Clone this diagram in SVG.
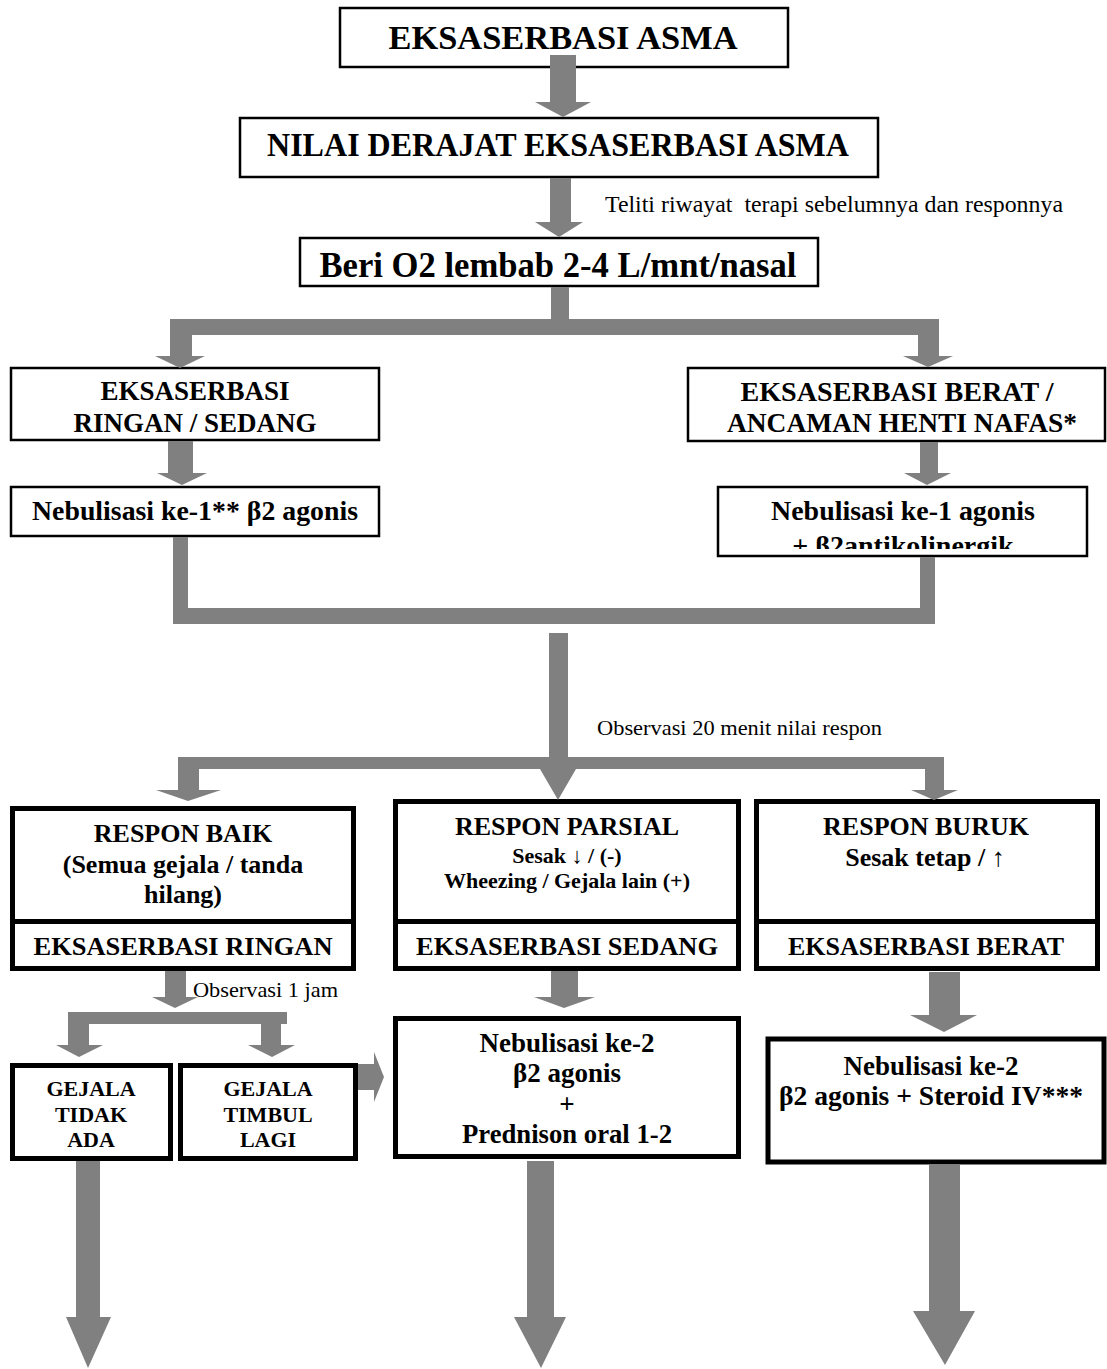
<svg xmlns="http://www.w3.org/2000/svg" width="1107" height="1369" viewBox="0 0 1107 1369">
<style>
.bx{fill:#fff;stroke:#000;stroke-width:2.5}
.tk{fill:#fff;stroke:#000;stroke-width:5}
.t{font-family:"Liberation Serif","Times New Roman",serif;font-weight:bold;text-anchor:middle;fill:#000}
.lb{font-family:"Liberation Serif","Times New Roman",serif;font-weight:normal;fill:#000;white-space:pre}
.ar{fill:#808080}
</style>
<defs>
<clipPath id="c2"><rect x="718" y="487" width="369" height="62"/></clipPath>
</defs>
<rect width="1107" height="1369" fill="#fff"/>
<g id="n1"><rect class="bx" x="340" y="8" width="448" height="59"/><text class="t" x="563" y="49" font-size="34" textLength="349" lengthAdjust="spacingAndGlyphs">EKSASERBASI ASMA</text></g>
<g id="n2"><rect class="bx" x="240" y="118" width="638" height="59"/><text class="t" x="558" y="156" font-size="33" textLength="582" lengthAdjust="spacingAndGlyphs">NILAI DERAJAT EKSASERBASI ASMA</text></g>
<g id="n3"><rect class="bx" x="300" y="238" width="518" height="48"/><text class="t" x="558" y="277" font-size="35" textLength="477" lengthAdjust="spacingAndGlyphs">Beri O2 lembab 2-4 L/mnt/nasal</text></g>
<g id="n4"><rect class="bx" x="11" y="368" width="368" height="72"/><text class="t" x="195" y="400" font-size="27">EKSASERBASI</text><text class="t" x="195" y="432" font-size="27">RINGAN / SEDANG</text></g>
<g id="n5"><rect class="bx" x="11" y="487" width="368" height="49"/><text class="t" x="195" y="520" font-size="27.5" textLength="326" lengthAdjust="spacingAndGlyphs">Nebulisasi ke-1** β2 agonis</text></g>
<g id="n6"><rect class="bx" x="688" y="368" width="417" height="73"/><text class="t" x="897" y="401" font-size="27" textLength="313" lengthAdjust="spacingAndGlyphs">EKSASERBASI BERAT /</text><text class="t" x="902" y="432" font-size="27" textLength="350" lengthAdjust="spacingAndGlyphs">ANCAMAN HENTI NAFAS*</text></g>
<g id="n7"><rect class="bx" x="718" y="487" width="369" height="69"/><text class="t" x="903" y="520" font-size="28" textLength="264" lengthAdjust="spacingAndGlyphs">Nebulisasi ke-1 agonis</text><text class="t" x="903" y="555" font-size="28" clip-path="url(#c2)">+ β2antikolinergik</text></g>
<g id="n8"><rect class="tk" x="12.5" y="808.5" width="341" height="113"/><rect class="tk" x="12.5" y="921.5" width="341" height="47"/><text class="t" x="183" y="842" font-size="26">RESPON BAIK</text><text class="t" x="183" y="873" font-size="26">(Semua gejala / tanda</text><text class="t" x="183" y="903" font-size="26">hilang)</text><text class="t" x="183" y="955" font-size="26" textLength="299" lengthAdjust="spacingAndGlyphs">EKSASERBASI RINGAN</text></g>
<g id="n9"><rect class="tk" x="395.5" y="801.5" width="343" height="120"/><rect class="tk" x="395.5" y="921.5" width="343" height="47"/><text class="t" x="567" y="835" font-size="26">RESPON PARSIAL</text><text class="t" x="567" y="863" font-size="22">Sesak ↓ / (-)</text><text class="t" x="567" y="888" font-size="22">Wheezing / Gejala lain (+)</text><text class="t" x="567" y="955" font-size="26" textLength="302" lengthAdjust="spacingAndGlyphs">EKSASERBASI SEDANG</text></g>
<g id="n10"><rect class="tk" x="756.5" y="801.5" width="341" height="120"/><rect class="tk" x="756.5" y="921.5" width="341" height="47"/><text class="t" x="926" y="835" font-size="26">RESPON BURUK</text><text class="t" x="925" y="866" font-size="26">Sesak tetap / ↑</text><text class="t" x="926" y="955" font-size="26">EKSASERBASI BERAT</text></g>
<g id="n11"><rect class="tk" x="12.5" y="1065.5" width="158" height="93"/><text class="t" x="91" y="1096" font-size="22">GEJALA</text><text class="t" x="91" y="1122" font-size="22">TIDAK</text><text class="t" x="91" y="1147" font-size="22">ADA</text></g>
<g id="n12"><rect class="tk" x="180.5" y="1065.5" width="175" height="93"/><text class="t" x="268" y="1096" font-size="22">GEJALA</text><text class="t" x="268" y="1122" font-size="22">TIMBUL</text><text class="t" x="268" y="1147" font-size="22">LAGI</text></g>
<g id="n13"><rect class="tk" x="395.5" y="1018.5" width="343" height="138"/><text class="t" x="567" y="1052" font-size="27">Nebulisasi ke-2</text><text class="t" x="567" y="1082" font-size="27">β2 agonis</text><text class="t" x="567" y="1113" font-size="27" font-weight="normal">+</text><text class="t" x="567" y="1143" font-size="27" textLength="210" lengthAdjust="spacingAndGlyphs">Prednison oral 1-2</text></g>
<g id="n14"><rect class="tk" x="768" y="1039" width="336" height="123" stroke-width="6.5"/><text class="t" x="931" y="1075" font-size="27">Nebulisasi ke-2</text><text class="t" x="931" y="1105" font-size="27" textLength="304" lengthAdjust="spacingAndGlyphs">β2 agonis + Steroid IV***</text></g>
<g id="connectors">
<polygon class="ar" points="550,55 576,55 576,102 591,102 563,117 535,102 550,102"/>
<polygon class="ar" points="550,178 571,178 571,222 583,222 559,237 535,222 550,222"/>
<polygon class="ar" points="551,287 569,287 569,319 939,319 939,356 953,356 928,367 903,356 918,356 918,335 192,335 192,356 205,356 180,368 155,356 170,356 170,319 551,319"/>
<polygon class="ar" points="168,441 193,441 193,473 207,473 182,485 157,473 168,473"/>
<polygon class="ar" points="920,442 938,442 938,473 951,473 927,485 904,473 920,473"/>
<polygon class="ar" points="173,537 188,537 188,608 920,608 920,557 935,557 935,624 173,624"/>
<polygon class="ar" points="549,633 568,633 568,757 944,757 944,790 958,790 934,800 911,790 925,790 925,769 576,769 558,800 540,769 199,769 199,790 221,790 188,801 156,790 178,790 178,757 549,757"/>
<polygon class="ar" points="165,971 186,971 186,997 198,997 175,1008 152,997 165,997"/>
<polygon class="ar" points="68,1012 287,1012 287,1024 281,1024 281,1045 295,1045 272,1057 248,1045 261,1045 261,1024 89,1024 89,1045 103,1045 79,1057 56,1045 68,1045"/>
<polygon class="ar" points="551,971 578,971 578,997 595,997 564,1008 534,997 551,997"/>
<polygon class="ar" points="929,972 960,972 960,1015 977,1015 944,1032 910,1015 929,1015"/>
<polygon class="ar" points="358,1064 374,1064 374,1052 384,1077 374,1102 374,1090 358,1090"/>
<polygon class="ar" points="76,1161 100,1161 100,1317 111,1317 88,1368 66,1317 76,1317"/>
<polygon class="ar" points="527,1161 554,1161 554,1317 566,1317 541,1368 514,1317 527,1317"/>
<polygon class="ar" points="929,1165 960,1165 960,1311 975,1311 945,1365 913,1311 929,1311"/>
<text class="lb" x="605" y="212" font-size="23" textLength="458" lengthAdjust="spacingAndGlyphs">Teliti riwayat  terapi sebelumnya dan responnya</text>
<text class="lb" x="597" y="735" font-size="22" textLength="285" lengthAdjust="spacingAndGlyphs">Observasi 20 menit nilai respon</text>
<text class="lb" x="193" y="997" font-size="22" textLength="145" lengthAdjust="spacingAndGlyphs">Observasi 1 jam</text>
</g>
</svg>
